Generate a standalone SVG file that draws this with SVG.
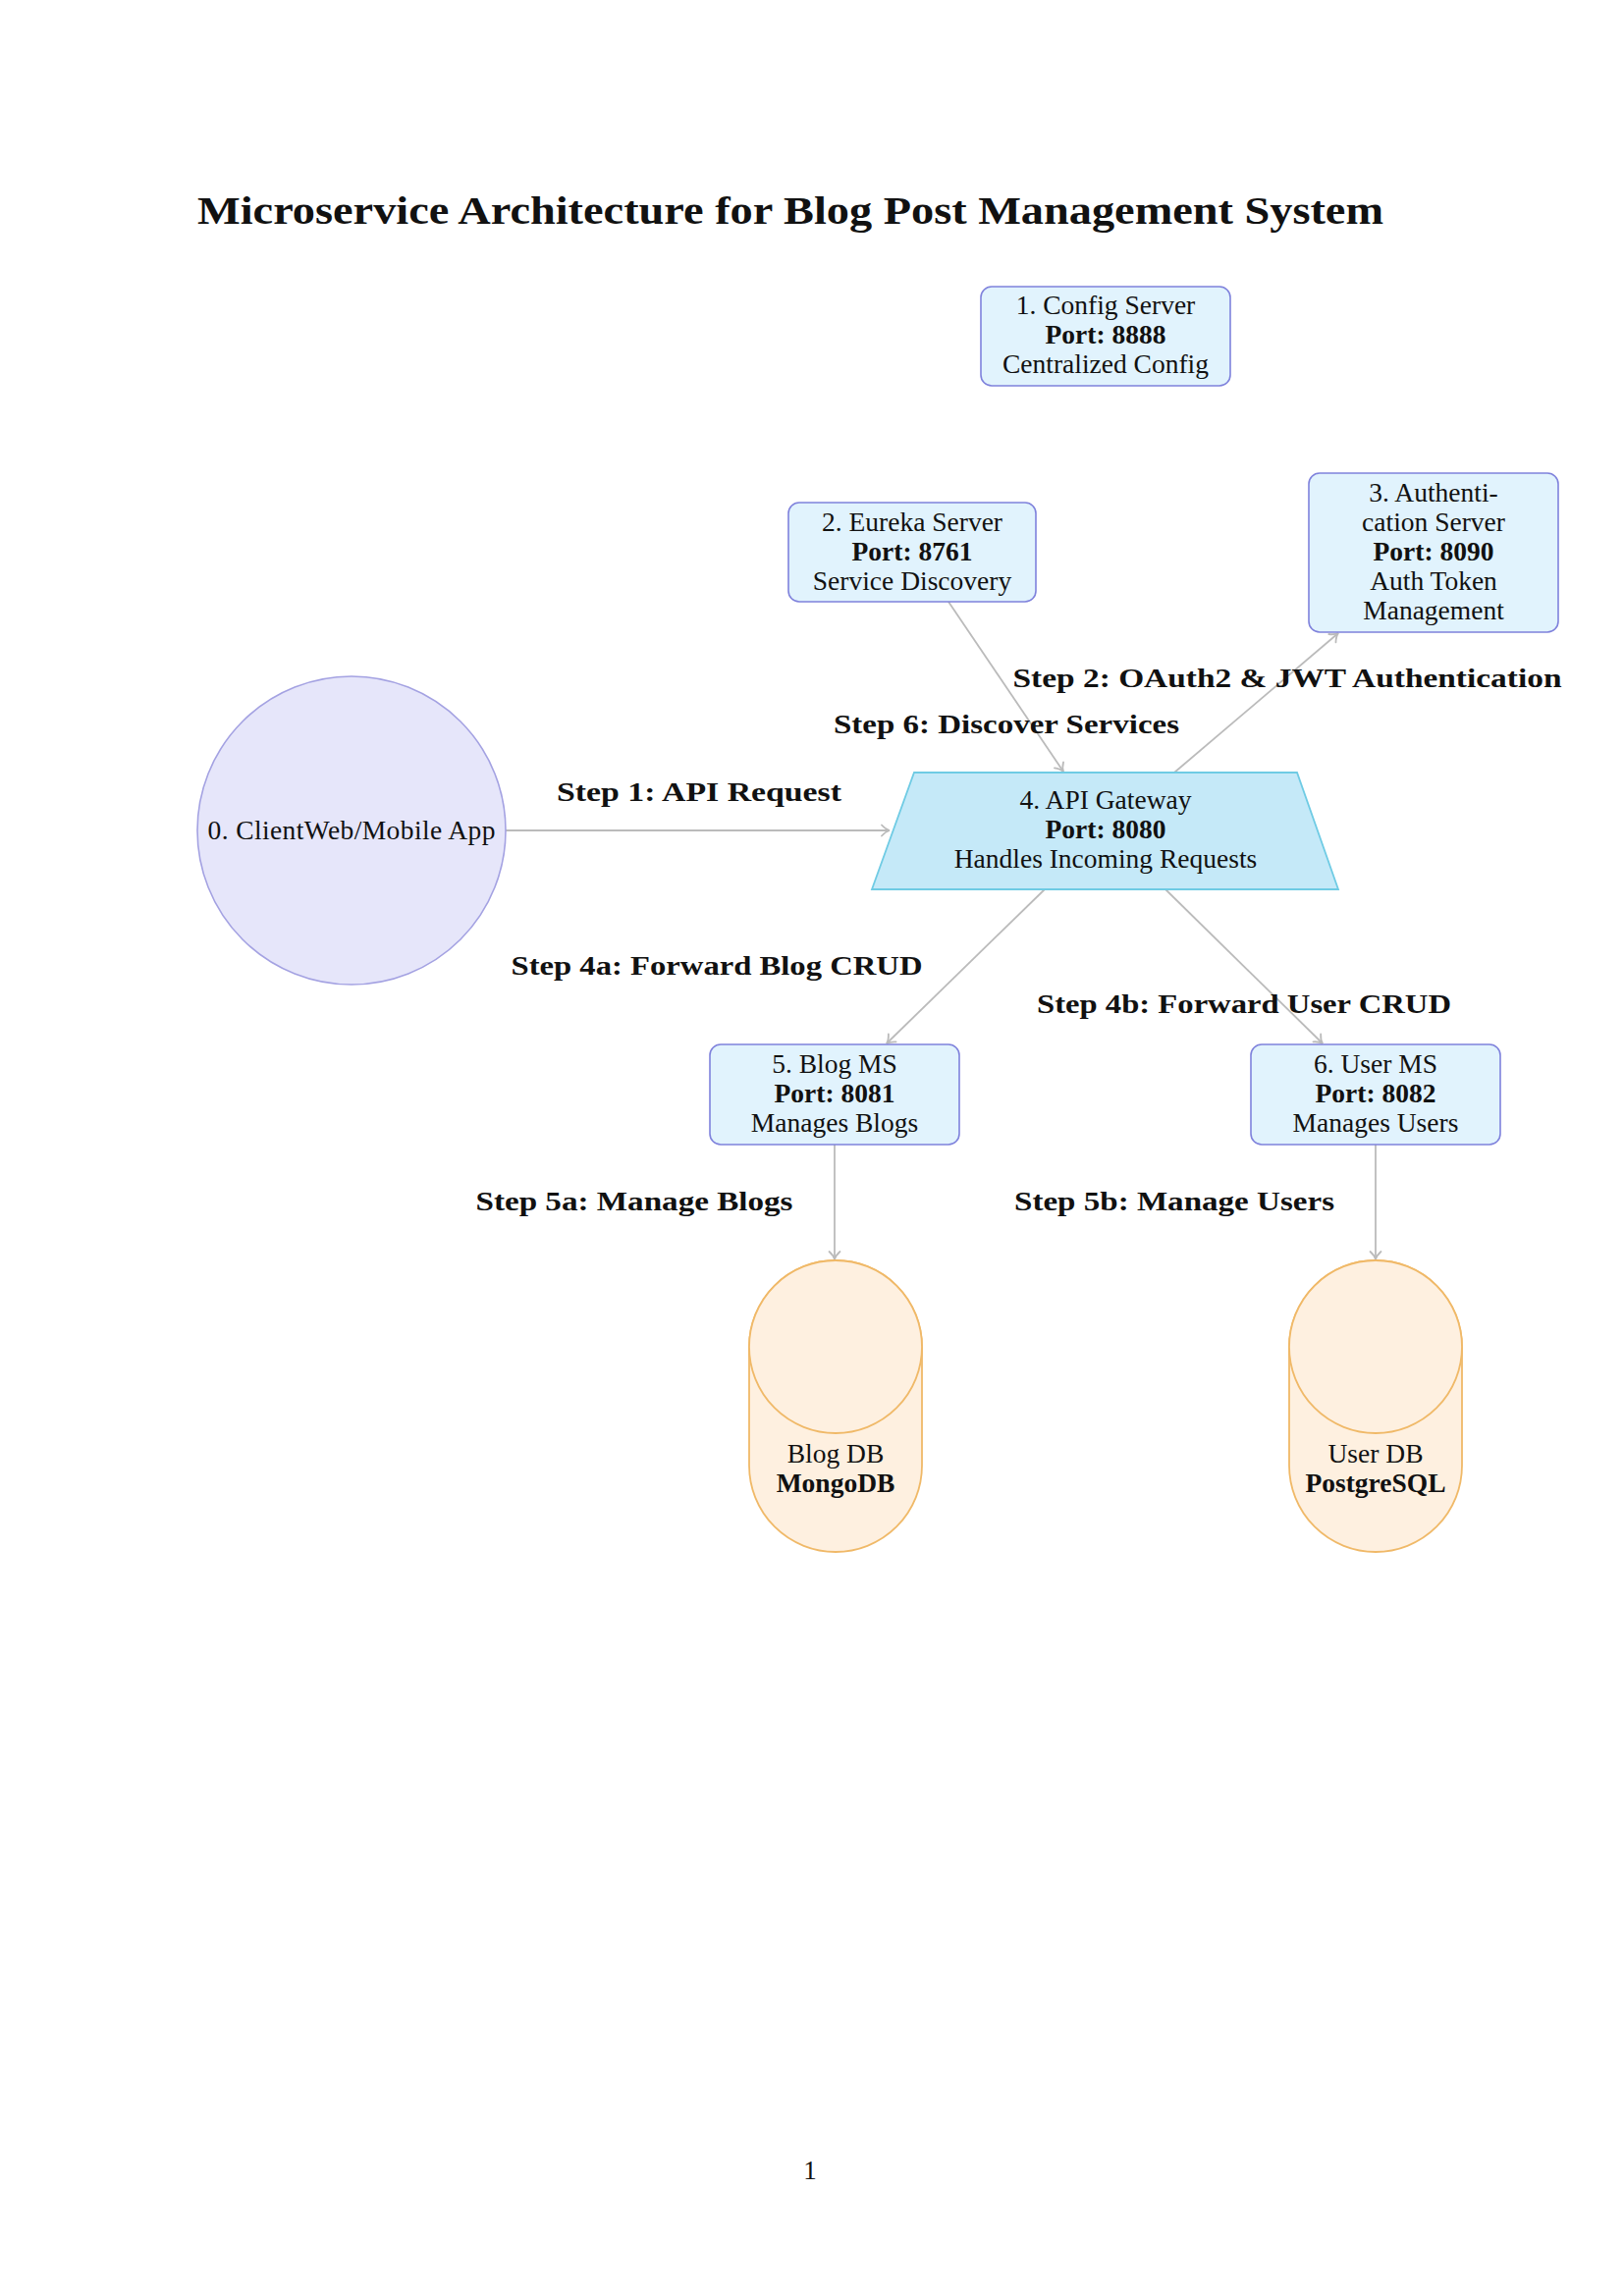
<svg xmlns="http://www.w3.org/2000/svg" width="1654" height="2339" viewBox="0 0 1654 2339">
<style>
  text { font-family: "Liberation Serif", "Times New Roman", serif; fill: #111; }
  .t { font-size: 27.5px; text-anchor: middle; }
  .b { font-weight: bold; }
  .lbl { font-size: 28px; font-weight: bold; text-anchor: middle; }
  .title { font-size: 40px; font-weight: bold; }
  .box { fill: #e1f3fd; stroke: #7f82dc; stroke-width: 1.6; }
  .client { fill: #e6e6fa; stroke: #a4a2e2; stroke-width: 1.6; }
  .gw { fill: #c5e9f8; stroke: #6fcbe4; stroke-width: 1.8; }
  .db { fill: #fef0e0; stroke: #f0b968; stroke-width: 1.8; }
  .conn line { stroke: #bbbbbb; stroke-width: 1.8; fill: none; marker-end: url(#arr); }
</style>
<defs>
  <marker id="arr" viewBox="-10 -7 12 14" refX="0" refY="0" markerWidth="12" markerHeight="14" orient="auto" markerUnits="userSpaceOnUse">
    <path d="M-8,-5.5 C-5,-2.2 -2,-0.5 0,0 C-2,0.5 -5,2.2 -8,5.5" fill="none" stroke="#bbbbbb" stroke-width="1.8" stroke-linecap="round"/>
  </marker>
</defs>
<rect width="1654" height="2339" fill="#ffffff"/>

<text class="title" x="201" y="228" textLength="1208" lengthAdjust="spacingAndGlyphs">Microservice Architecture for Blog Post Management System</text>

<g id="connectors" class="conn">
  <line x1="515" y1="846" x2="906" y2="846"/>
  <line x1="966" y1="613" x2="1083" y2="786"/>
  <line x1="1196" y1="787" x2="1363" y2="645"/>
  <line x1="1064" y1="906" x2="903" y2="1063"/>
  <line x1="1187" y1="906" x2="1347" y2="1063"/>
  <line x1="850" y1="1166" x2="850" y2="1283"/>
  <line x1="1401" y1="1166" x2="1401" y2="1283"/>
</g>

<g id="labels">
  <text class="lbl" x="712" y="816" textLength="290" lengthAdjust="spacingAndGlyphs">Step 1: API Request</text>
  <text class="lbl" x="1311" y="700" textLength="559" lengthAdjust="spacingAndGlyphs">Step 2: OAuth2 &amp; JWT Authentication</text>
  <text class="lbl" x="1025" y="747" textLength="352" lengthAdjust="spacingAndGlyphs">Step 6: Discover Services</text>
  <text class="lbl" x="730" y="993" textLength="419" lengthAdjust="spacingAndGlyphs">Step 4a: Forward Blog CRUD</text>
  <text class="lbl" x="1267" y="1032" textLength="422" lengthAdjust="spacingAndGlyphs">Step 4b: Forward User CRUD</text>
  <text class="lbl" x="646" y="1233" textLength="323" lengthAdjust="spacingAndGlyphs">Step 5a: Manage Blogs</text>
  <text class="lbl" x="1196" y="1233" textLength="326" lengthAdjust="spacingAndGlyphs">Step 5b: Manage Users</text>
</g>

<g id="config-server">
  <rect class="box" x="999" y="292" width="254" height="101" rx="11"/>
  <text class="t" x="1126" y="320">1. Config Server</text>
  <text class="t b" x="1126" y="350">Port: 8888</text>
  <text class="t" x="1126" y="380">Centralized Config</text>
</g>

<g id="eureka-server">
  <rect class="box" x="803" y="512" width="252" height="101" rx="11"/>
  <text class="t" x="929" y="541">2. Eureka Server</text>
  <text class="t b" x="929" y="571">Port: 8761</text>
  <text class="t" x="929" y="601">Service Discovery</text>
</g>

<g id="auth-server">
  <rect class="box" x="1333" y="482" width="254" height="162" rx="11"/>
  <text class="t" x="1460" y="511">3. Authenti-</text>
  <text class="t" x="1460" y="541">cation Server</text>
  <text class="t b" x="1460" y="571">Port: 8090</text>
  <text class="t" x="1460" y="601">Auth Token</text>
  <text class="t" x="1460" y="631">Management</text>
</g>

<g id="client">
  <circle class="client" cx="358" cy="846" r="157"/>
  <text class="t" x="358" y="855" textLength="293">0. ClientWeb/Mobile App</text>
</g>

<g id="api-gateway">
  <polygon class="gw" points="931,787 1321,787 1363,906 888,906"/>
  <text class="t" x="1126" y="824">4. API Gateway</text>
  <text class="t b" x="1126" y="854">Port: 8080</text>
  <text class="t" x="1126" y="884">Handles Incoming Requests</text>
</g>

<g id="blog-ms">
  <rect class="box" x="723" y="1064" width="254" height="102" rx="11"/>
  <text class="t" x="850" y="1093">5. Blog MS</text>
  <text class="t b" x="850" y="1123">Port: 8081</text>
  <text class="t" x="850" y="1153">Manages Blogs</text>
</g>

<g id="user-ms">
  <rect class="box" x="1274" y="1064" width="254" height="102" rx="11"/>
  <text class="t" x="1401" y="1093">6. User MS</text>
  <text class="t b" x="1401" y="1123">Port: 8082</text>
  <text class="t" x="1401" y="1153">Manages Users</text>
</g>

<g id="blog-db">
  <path class="db" d="M763,1372 A88,88 0 0 1 939,1372 L939,1493 A88,88 0 0 1 763,1493 Z"/>
  <ellipse class="db" cx="851" cy="1372" rx="88" ry="88"/>
  <text class="t" x="851" y="1490">Blog DB</text>
  <text class="t b" x="851" y="1520">MongoDB</text>
</g>

<g id="user-db">
  <path class="db" d="M1313,1372 A88,88 0 0 1 1489,1372 L1489,1493 A88,88 0 0 1 1313,1493 Z"/>
  <ellipse class="db" cx="1401" cy="1372" rx="88" ry="88"/>
  <text class="t" x="1401" y="1490">User DB</text>
  <text class="t b" x="1401" y="1520">PostgreSQL</text>
</g>

<text x="825" y="2220" style="font-size:27px;text-anchor:middle;">1</text>
</svg>
